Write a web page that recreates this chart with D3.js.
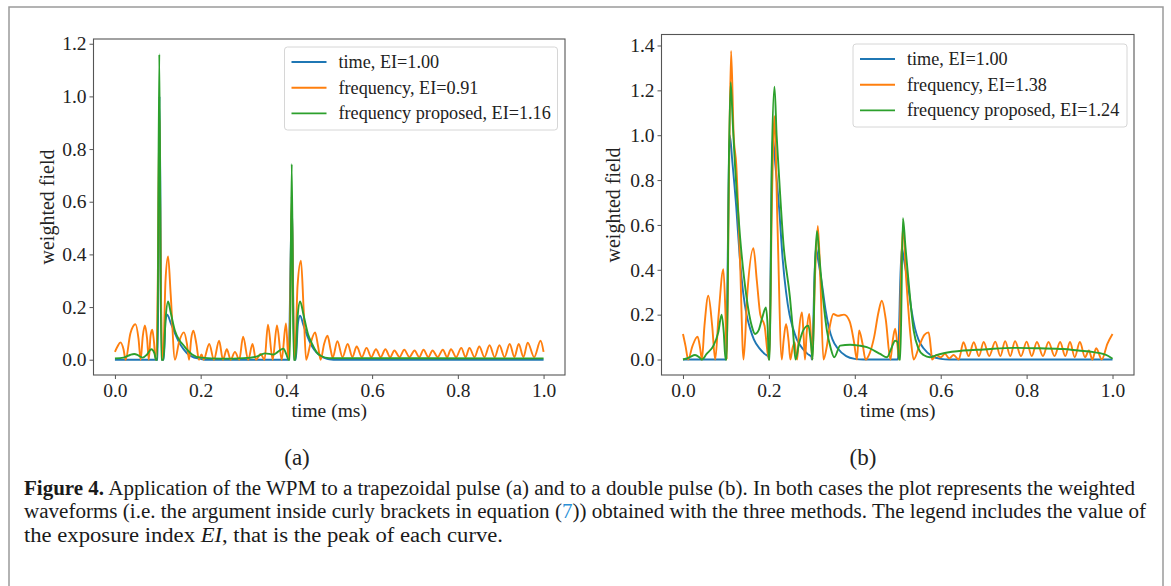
<!DOCTYPE html>
<html>
<head>
<meta charset="utf-8">
<script src="https://cdn.jsdelivr.net/npm/d3@7"></script>
<style>
  body { margin: 0; background: #fff; }
  svg { display: block; font-family: "Liberation Serif", "DejaVu Serif", serif; }
</style>
</head>
<body>
<svg id="fig" width="1171" height="586"></svg>
<script>
// x ticks shared by both panels
const xTicks = [0, 0.2, 0.4, 0.6, 0.8, 1.0];
const yTicksA = [0, 0.2, 0.4, 0.6, 0.8, 1.0, 1.2];
const yTicksB = [0, 0.2, 0.4, 0.6, 0.8, 1.0, 1.2, 1.4];

const seriesNames = ["time", "frequency", "frequency proposed"];
const legendA = ["time, EI=1.00", "frequency, EI=0.91", "frequency proposed, EI=1.16"];
const legendB = ["time, EI=1.00", "frequency, EI=1.38", "frequency proposed, EI=1.24"];

// panel (a): trapezoidal pulse, [time ms, weighted field]
const timeA = [[0,0],[0.1,0],[0.104,1.0],[0.109,0],[0.114,0],[0.118,0.15],[0.122,0.171],[0.13,0.14],[0.14,0.1],
  [0.15,0.065],[0.16,0.04],[0.17,0.022],[0.18,0.012],[0.19,0.006],[0.2,0.003],[0.21,0],[0.405,0],[0.413,0.6],
  [0.418,0],[0.422,0],[0.427,0.14],[0.432,0.167],[0.44,0.13],[0.45,0.085],[0.46,0.05],[0.47,0.028],[0.48,0.014],
  [0.49,0.006],[0.5,0.002],[0.52,0],[1.0,0]];
const freqA = [[0,0.03],[0.006,0.05],[0.013,0.066],[0.02,0.04],[0.025,0],[0.036,0.1],[0.048,0.135],[0.055,0.08],
  [0.06,0],[0.065,0.09],[0.07,0.13],[0.075,0.08],[0.079,0],[0.083,0.09],[0.087,0.114],[0.091,0.07],[0.095,0],
  [0.1,0.3],[0.1035,0.91],[0.107,0.3],[0.112,0],[0.118,0.3],[0.124,0.392],[0.13,0.25],[0.14,0],[0.15,0.07],
  [0.161,0.104],[0.168,0.06],[0.173,0],[0.178,0.08],[0.183,0.11],[0.19,0.06],[0.196,0],[0.202,0.02],[0.207,0],
  [0.22,0.06],[0.231,0],[0.243,0.072],[0.252,0],[0.261,0.04],[0.27,0],[0.28,0.03],[0.29,0],[0.299,0.087],
  [0.311,0],[0.321,0.06],[0.329,0],[0.34,0.022],[0.349,0],[0.357,0.133],[0.368,0],[0.378,0.13],[0.389,0],
  [0.399,0.138],[0.405,0],[0.409,0.2],[0.4125,0.62],[0.416,0.2],[0.42,0],[0.426,0.28],[0.434,0.376],[0.44,0.2],
  [0.446,0],[0.456,0.06],[0.467,0.104],[0.474,0.05],[0.48,0],[0.488,0.06],[0.496,0.091],[0.503,0.04],[0.508,0.008],
  [0.519,0.07],[0.531,0.01],[0.543,0.06],[0.554,0.01],[0.564,0.05],[0.576,0.01],[0.587,0.045],[0.598,0.01],
  [0.609,0.04],[0.62,0.01],[0.631,0.04],[0.642,0.01],[0.652,0.035],[0.664,0.01],[0.675,0.038],[0.687,0.01],
  [0.699,0.035],[0.71,0.01],[0.72,0.038],[0.731,0.01],[0.741,0.035],[0.753,0.01],[0.765,0.038],[0.775,0.01],
  [0.784,0.04],[0.796,0.01],[0.808,0.045],[0.818,0.01],[0.827,0.045],[0.839,0.01],[0.85,0.05],[0.862,0.01],
  [0.874,0.055],[0.886,0.01],[0.897,0.055],[0.909,0.01],[0.921,0.06],[0.932,0.01],[0.942,0.06],[0.953,0.01],
  [0.963,0.065],[0.978,0.01],[0.993,0.072],[1.0,0.03]];
const propA = [[0,0.005],[0.02,0.008],[0.035,0.018],[0.045,0.022],[0.055,0.016],[0.065,0.008],[0.075,0.02],
  [0.085,0.04],[0.092,0.025],[0.096,0],[0.099,0],[0.1035,1.16],[0.108,0],[0.113,0],[0.118,0.15],[0.124,0.221],
  [0.13,0.18],[0.14,0.11],[0.15,0.075],[0.16,0.055],[0.17,0.035],[0.18,0.02],[0.2,0.008],[0.25,0.004],[0.3,0.006],
  [0.33,0.012],[0.35,0.024],[0.37,0.02],[0.38,0.03],[0.393,0.042],[0.4,0.02],[0.405,0],[0.408,0],[0.4125,0.743],
  [0.417,0],[0.421,0],[0.426,0.16],[0.432,0.221],[0.44,0.17],[0.45,0.1],[0.46,0.06],[0.47,0.03],[0.48,0.015],
  [0.5,0.006],[1.0,0.005]];

// panel (b): double pulse
const timeB = [[0,0],[0.1,0],[0.109,1.0],[0.115,0.88],[0.124,0.68],[0.132,0.46],[0.14,0.3],[0.148,0.2],
  [0.156,0.14],[0.165,0.09],[0.18,0.045],[0.19,0.025],[0.199,0.012],[0.2,0],[0.209,0.99],[0.215,0.87],
  [0.224,0.67],[0.232,0.45],[0.24,0.3],[0.248,0.2],[0.256,0.14],[0.265,0.09],[0.28,0.045],[0.29,0.025],
  [0.299,0.012],[0.3,0],[0.309,0.5],[0.315,0.44],[0.324,0.33],[0.332,0.22],[0.34,0.14],[0.348,0.09],[0.36,0.05],
  [0.38,0.015],[0.4,0.003],[0.42,0],[0.5,0],[0.509,0.5],[0.515,0.44],[0.524,0.33],[0.532,0.22],[0.54,0.14],
  [0.548,0.09],[0.56,0.05],[0.58,0.015],[0.6,0.003],[0.62,0],[1.0,0]];
const freqB = [[0,0.114],[0.006,0.06],[0.012,0],[0.022,0.06],[0.034,0.102],[0.04,0.05],[0.044,0],[0.05,0.15],
  [0.059,0.284],[0.068,0.15],[0.075,0],[0.083,0.2],[0.094,0.403],[0.099,0.2],[0.102,0],[0.107,0.8],[0.112,1.376],
  [0.118,1.0],[0.124,0.87],[0.133,0.43],[0.141,0],[0.15,0.3],[0.164,0.496],[0.172,0.35],[0.18,0.2],[0.19,0.15],
  [0.197,0.03],[0.201,0],[0.207,0.7],[0.213,1.085],[0.22,0.6],[0.23,0],[0.234,0.08],[0.24,0.159],[0.246,0.08],
  [0.25,0],[0.255,0.05],[0.26,0.077],[0.263,0.03],[0.266,0],[0.27,0.12],[0.277,0.21],[0.281,0.1],[0.284,0],
  [0.288,0.12],[0.294,0.203],[0.298,0.1],[0.301,0],[0.308,0.4],[0.314,0.596],[0.32,0.35],[0.327,0],[0.335,0.06],
  [0.342,0.15],[0.35,0.203],[0.36,0.195],[0.375,0.2],[0.388,0.17],[0.398,0.08],[0.405,0],[0.41,0.13],[0.418,0.07],
  [0.425,0],[0.435,0.03],[0.445,0.1],[0.455,0.21],[0.463,0.262],[0.472,0.18],[0.483,0],[0.488,0.08],[0.494,0.137],
  [0.499,0.07],[0.503,0],[0.508,0.4],[0.512,0.588],[0.52,0.35],[0.53,0.1],[0.537,0],[0.55,0.06],[0.562,0.11],
  [0.572,0.121],[0.577,0.05],[0.58,0],[0.59,0.02],[0.6,0.01],[0.61,0.025],[0.62,0.005],[0.63,0.02],[0.642,0],
  [0.653,0.077],[0.665,0.015],[0.677,0.077],[0.689,0.015],[0.7,0.078],[0.713,0.015],[0.727,0.08],[0.739,0.015],
  [0.75,0.082],[0.762,0.015],[0.773,0.082],[0.787,0.015],[0.8,0.08],[0.812,0.015],[0.824,0.078],[0.838,0.015],
  [0.851,0.078],[0.865,0.015],[0.878,0.078],[0.89,0.015],[0.901,0.078],[0.912,0.01],[0.924,0.078],[0.936,0.01],
  [0.945,0.04],[0.953,0],[0.962,0.05],[0.975,0],[0.988,0.07],[1.0,0.114]];
const propB = [[0,0],[0.015,0.01],[0.028,0.02],[0.038,0.01],[0.044,0],[0.055,0.025],[0.071,0.062],[0.082,0.12],
  [0.09,0.2],[0.095,0.12],[0.099,0],[0.102,0],[0.107,0.9],[0.111,1.236],[0.116,1.05],[0.121,0.87],[0.133,0.544],
  [0.148,0.277],[0.16,0.15],[0.168,0.114],[0.176,0.13],[0.185,0.19],[0.193,0.232],[0.197,0.15],[0.2,0],[0.202,0],
  [0.207,0.9],[0.213,1.216],[0.218,1.0],[0.222,0.87],[0.234,0.514],[0.249,0.277],[0.256,0.13],[0.262,0],[0.27,0.07],
  [0.28,0.13],[0.292,0.151],[0.298,0.07],[0.302,0],[0.307,0.4],[0.312,0.573],[0.317,0.47],[0.323,0.336],
  [0.335,0.13],[0.344,0.05],[0.352,0.01],[0.366,0.062],[0.389,0.066],[0.41,0.062],[0.428,0.055],[0.445,0.04],
  [0.459,0.025],[0.475,0.01],[0.485,0.05],[0.494,0.084],[0.5,0.077],[0.503,0],[0.506,0],[0.512,0.63],[0.518,0.5],
  [0.525,0.351],[0.537,0.13],[0.548,0.05],[0.56,0.02],[0.575,0.01],[0.59,0.02],[0.607,0.028],[0.653,0.04],
  [0.7,0.045],[0.77,0.052],[0.83,0.05],[0.886,0.047],[0.92,0.04],[0.956,0.033],[0.988,0.018],[1.0,0.003]];

const colors = ["#1f77b4", "#ff7f0e", "#2ca02c"];

const svg = d3.select("#fig");

// outer figure frame
svg.append("rect")
  .attr("x", 9).attr("y", 7).attr("width", 1154).attr("height", 600)
  .attr("fill", "none").attr("stroke", "#9a9a9a").attr("stroke-width", 1.5);

function panel(cfg) {
  const x = d3.scaleLinear().domain([-0.05, 1.05]).range([cfg.left, cfg.right]);
  const y = d3.scaleLinear().domain(cfg.yDomain).range([cfg.bottom, cfg.top]);
  const g = svg.append("g");

  const xAxis = g.append("g")
    .attr("transform", `translate(0,${cfg.bottom})`)
    .call(d3.axisBottom(x).tickValues(xTicks).tickFormat(d3.format(".1f")).tickSize(4).tickPadding(4));
  const yAxis = g.append("g")
    .attr("transform", `translate(${cfg.left},0)`)
    .call(d3.axisLeft(y).tickValues(cfg.yTicks).tickFormat(d3.format(".1f")).tickSize(4).tickPadding(3));
  [xAxis, yAxis].forEach(a => {
    a.select(".domain").remove();
    a.selectAll(".tick line").attr("stroke", "#555").attr("stroke-width", 1);
    a.selectAll(".tick text").attr("fill", "#222").style("font-size", "19.5px")
      .style("font-family", '"Liberation Serif", serif');
  });

  const line = d3.line()
    .x(d => x(d[0]))
    .y(d => y(d[1]))
    .curve(d3.curveMonotoneX);

  cfg.series.forEach((s, i) => {
    g.append("path")
      .datum(s)
      .attr("d", line)
      .attr("fill", "none")
      .attr("stroke", colors[i])
      .attr("stroke-width", 1.9)
      .attr("stroke-linejoin", "round");
  });

  // axes box
  g.append("rect")
    .attr("x", cfg.left).attr("y", cfg.top)
    .attr("width", cfg.right - cfg.left).attr("height", cfg.bottom - cfg.top)
    .attr("fill", "none").attr("stroke", "#555").attr("stroke-width", 1.1);

  // legend
  const lg = g.append("g").attr("transform", `translate(${cfg.legend.x},${cfg.legend.y})`);
  lg.append("rect")
    .attr("width", cfg.legend.w).attr("height", 83).attr("rx", 3)
    .attr("fill", "#fff").attr("fill-opacity", 0.8)
    .attr("stroke", "#d6d6d6");
  cfg.labels.forEach((t, i) => {
    const yy = 15 + i * 25.7;
    lg.append("line")
      .attr("x1", 7).attr("x2", 42).attr("y1", yy).attr("y2", yy)
      .attr("stroke", colors[i]).attr("stroke-width", 1.9);
    lg.append("text")
      .attr("x", 54).attr("y", yy).attr("dy", "0.33em")
      .attr("fill", "#222").style("font-size", "18.2px")
      .text(t);
  });

  // axis labels
  g.append("text")
    .attr("x", (cfg.left + cfg.right) / 2).attr("y", 417)
    .attr("text-anchor", "middle").attr("fill", "#222").style("font-size", "19.5px")
    .text("time (ms)");
  g.append("text")
    .attr("transform", `translate(${cfg.yLabelX},${cfg.yLabelY}) rotate(-90)`)
    .attr("text-anchor", "middle").attr("dy", "0.33em")
    .attr("fill", "#222").style("font-size", "20px")
    .text("weighted field");

  // sub-figure tag
  g.append("text")
    .attr("x", cfg.tagX).attr("y", 465)
    .attr("text-anchor", "middle").attr("fill", "#222").style("font-size", "23px")
    .text(cfg.tag);
}

panel({
  left: 93.5, right: 565, top: 39, bottom: 375,
  yDomain: [-0.058, 1.218], yTicks: yTicksA,
  series: [timeA, freqA, propA], labels: legendA,
  legend: { x: 284.5, y: 47, w: 273 },
  yLabelX: 47, yLabelY: 207, tagX: 297, tag: "(a)"
});

panel({
  left: 661.5, right: 1134, top: 34.5, bottom: 375,
  yDomain: [-0.069, 1.449], yTicks: yTicksB,
  series: [timeB, freqB, propB], labels: legendB,
  legend: { x: 853, y: 44, w: 274 },
  yLabelX: 613, yLabelY: 205, tagX: 863, tag: "(b)"
});

// caption
const cap = svg.append("g").attr("fill", "#1a1a1a").style("font-size", "20px");
const l1 = cap.append("text").attr("x", 24).attr("y", 494.5)
  .attr("textLength", 1111).attr("lengthAdjust", "spacingAndGlyphs");
l1.append("tspan").style("font-weight", "bold").text("Figure 4.");
l1.append("tspan").text(" Application of the WPM to a trapezoidal pulse (a) and to a double pulse (b). In both cases the plot represents the weighted");
const l2 = cap.append("text").attr("x", 24).attr("y", 518)
  .attr("textLength", 1122).attr("lengthAdjust", "spacingAndGlyphs");
l2.append("tspan").text("waveforms (i.e. the argument inside curly brackets in equation (");
l2.append("tspan").attr("fill", "#2a8fd6").text("7");
l2.append("tspan").text(")) obtained with the three methods. The legend includes the value of");
const l3 = cap.append("text").attr("x", 24).attr("y", 541.5)
  .attr("textLength", 479).attr("lengthAdjust", "spacingAndGlyphs");
l3.append("tspan").text("the exposure index ");
l3.append("tspan").style("font-style", "italic").text("EI");
l3.append("tspan").text(", that is the peak of each curve.");
</script>
</body>
</html>
